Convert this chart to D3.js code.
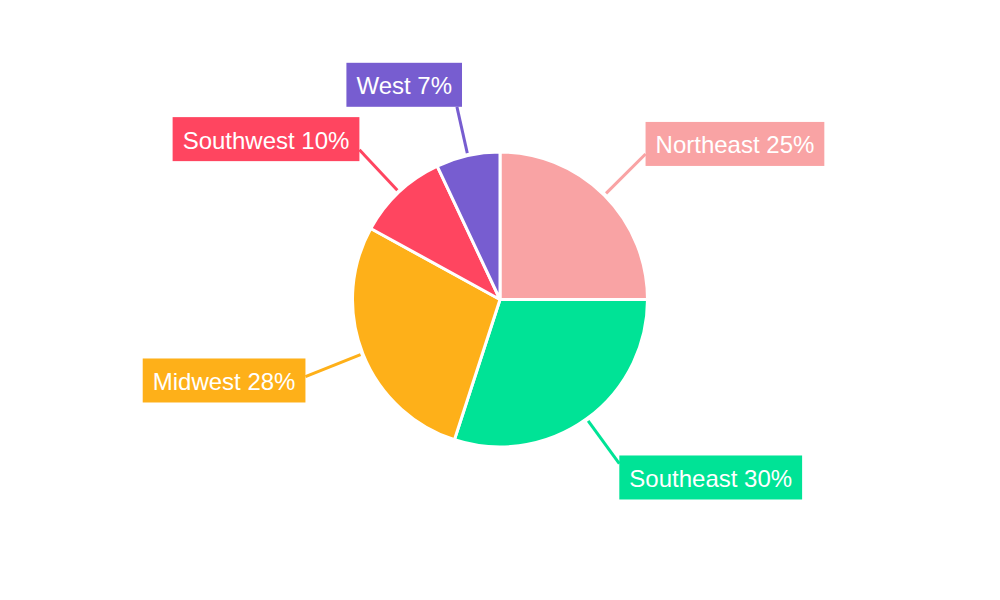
<!DOCTYPE html>
<html>
<head>
<meta charset="utf-8">
<script src="https://cdn.jsdelivr.net/npm/d3@7"></script>
<style>
  html, body { margin: 0; padding: 0; background: #fff; }
  svg { display: block; font-family: "Liberation Sans", Arial, sans-serif; }
</style>
</head>
<body>
<svg id="chart" width="1000" height="600"></svg>
<script>
const categories = ["Northeast", "Southeast", "Midwest", "Southwest", "West"];
const values = [25, 30, 28, 10, 7];
const colors = ["#F9A3A4", "#00E396", "#FEB019", "#FF4560", "#775DD0"];

const W = 1000, H = 600;
const cx = 500, cy = 299.5, R = 147.5;
const lineStartR = 150, labelR = 220;
const fontSize = 24, padX = 10, boxH = 44;

const svg = d3.select("#chart");
const g = svg.append("g").attr("transform", `translate(${cx},${cy})`);

const data = categories.map((c, i) => ({ name: c, value: values[i], color: colors[i] }));
const total = d3.sum(values);
const pie = d3.pie().sort(null).value(d => d.value);
const arcs = pie(data);
const arc = d3.arc().innerRadius(0).outerRadius(R);

g.selectAll("path.slice").data(arcs).join("path")
  .attr("class", "slice")
  .attr("d", arc)
  .attr("fill", d => d.data.color)
  .attr("stroke", "#fff")
  .attr("stroke-width", 3)
  .attr("stroke-linejoin", "round");

const labels = g.append("g");
arcs.forEach(a => {
  const mid = (a.startAngle + a.endAngle) / 2;
  const sx = Math.sin(mid), sy = -Math.cos(mid);
  const right = sx >= 0;
  const ax = labelR * sx, ay = labelR * sy;
  const text = `${a.data.name} ${Math.round(a.data.value / total * 100)}%`;

  const lg = labels.append("g");
  const rect = lg.append("rect").attr("fill", a.data.color);
  const t = lg.append("text")
    .attr("x", ax)
    .attr("y", ay + 9.5)
    .attr("text-anchor", right ? "start" : "end")
    .attr("font-size", fontSize)
    .attr("fill", "#fff")
    .text(text);
  const tw = t.node().getComputedTextLength();
  const x0 = right ? ax - padX : ax - tw - padX;
  const x1 = right ? ax + tw + padX : ax + padX;
  const y0 = ay - boxH / 2, y1 = ay + boxH / 2;
  rect.attr("x", x0).attr("y", y0).attr("width", x1 - x0).attr("height", y1 - y0);

  // ray from center along mid angle: find entry into box (slab method)
  let tmin = 0, tmax = Infinity;
  [[sx, x0, x1], [sy, y0, y1]].forEach(([d, lo, hi]) => {
    if (Math.abs(d) < 1e-9) return;
    let ta = lo / d, tb = hi / d;
    if (ta > tb) [ta, tb] = [tb, ta];
    tmin = Math.max(tmin, ta);
    tmax = Math.min(tmax, tb);
  });
  const endR = tmin;
  lg.insert("line", "rect")
    .attr("x1", lineStartR * sx).attr("y1", lineStartR * sy)
    .attr("x2", endR * sx).attr("y2", endR * sy)
    .attr("stroke", a.data.color)
    .attr("stroke-width", 3);
});
</script>
</body>
</html>
